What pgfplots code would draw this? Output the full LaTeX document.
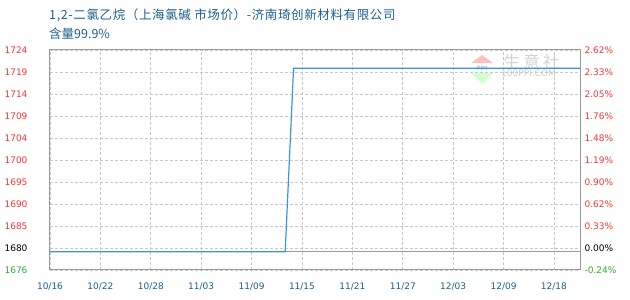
\documentclass[border=0pt]{standalone}
\usepackage{fontspec}
\usepackage{pgfplots}
\pgfplotsset{compat=1.18}
\setmainfont{DejaVu Sans}
\newfontfamily\cjk{Noto Sans CJK SC}

\definecolor{titleblue}{RGB}{28,95,140}
\definecolor{upred}{RGB}{255,51,51}
\definecolor{downgreen}{RGB}{51,170,51}
\definecolor{lineblue}{RGB}{58,150,216}
\definecolor{framegray}{RGB}{153,153,153}
\definecolor{gridgray}{RGB}{200,200,200}

% price series: index of trading day, price (yuan/t)
\pgfplotstableread{
x     y
0     1680
28    1680
29    1720
63.1  1720
}\pricedata

\pgfplotsset{
  commonaxis/.style={
    at={(50pt,30pt)}, anchor=south west,
    scale only axis, width=530pt, height=220pt,
    xmin=0, xmax=63.1, ymin=1676, ymax=1724,
    ytick={1676,1680.8,1685.6,1690.4,1695.2,1700,1704.8,1709.6,1714.4,1719.2,1724},
    major tick length=0pt,
    tick label style={font=\fontsize{9}{9}\selectfont},
    axis line style={framegray, line width=1pt},
  }
}

\begin{document}
\begin{tikzpicture}[x=1pt,y=1pt]
\useasboundingbox (0pt,0pt) rectangle (630pt,300pt);

% site logo watermark
\fill[red!25] (471pt,237pt) -- (493pt,237pt) -- (482pt,245pt) -- cycle;
\fill[green!18] (471pt,227pt) -- (493pt,227pt) -- (482pt,216pt) -- cycle;
\node[font=\bfseries\fontsize{6}{6}\selectfont, text=blue!20!gray!40] at (482pt,232pt) {PPI};
\node[anchor=west, font=\cjk\fontsize{17}{17}\selectfont, text=blue!15!gray!30, inner sep=0pt] at (503pt,238pt) {生\,意\,社};
\node[anchor=west, font=\fontsize{9}{9}\selectfont, text=gray!40, inner sep=0pt] at (501pt,227pt) {100PPI.COM};

% title
\node[anchor=west, inner sep=0pt, text=titleblue, font=\cjk\fontsize{12.5}{12.5}\selectfont\addfontfeature{LetterSpace=5}] at (49pt,285pt)
  {1,2-二氯乙烷（上海氯碱 市场价）-济南琦创新材料有限公司};
\node[anchor=west, inner sep=0pt, text=titleblue, font=\cjk\fontsize{12.5}{12.5}\selectfont] at (49pt,266pt)
  {含量99.9\%};

% price axis (left)
\begin{axis}[commonaxis,
  xtick={0,6,...,60},
  xticklabels={10/16,10/22,10/28,11/03,11/09,11/15,11/21,11/27,12/03,12/09,12/18},
  xticklabel style={text=titleblue, yshift=-9pt},
  yticklabels={\textcolor{downgreen}{1676},\textcolor{black}{1680},1685,1690,1695,1700,1704,1709,1714,1719,1724},
  yticklabel style={text=upred, anchor=east, xshift=-19pt},
  ytick pos=left, xtick pos=bottom,
  xmajorgrids, ymajorgrids,
  major grid style={gridgray, dash pattern=on 3pt off 2pt, line width=0.8pt},
]
\addplot[framegray, line width=1pt] coordinates {(0,1680) (63.1,1680)};
\addplot[lineblue, line width=1.2pt] table[x=x, y=y] {\pricedata};
\end{axis}

% change-rate axis (right)
\begin{axis}[commonaxis,
  axis x line=none, axis y line*=right,
  yticklabels={\textcolor{downgreen}{-0.24\%},\textcolor{black}{0.00\%},0.33\%,0.62\%,0.90\%,1.19\%,1.48\%,1.76\%,2.05\%,2.33\%,2.62\%},
  yticklabel style={text=upred, anchor=west, xshift=1pt},
]
\end{axis}
\end{tikzpicture}
\end{document}
